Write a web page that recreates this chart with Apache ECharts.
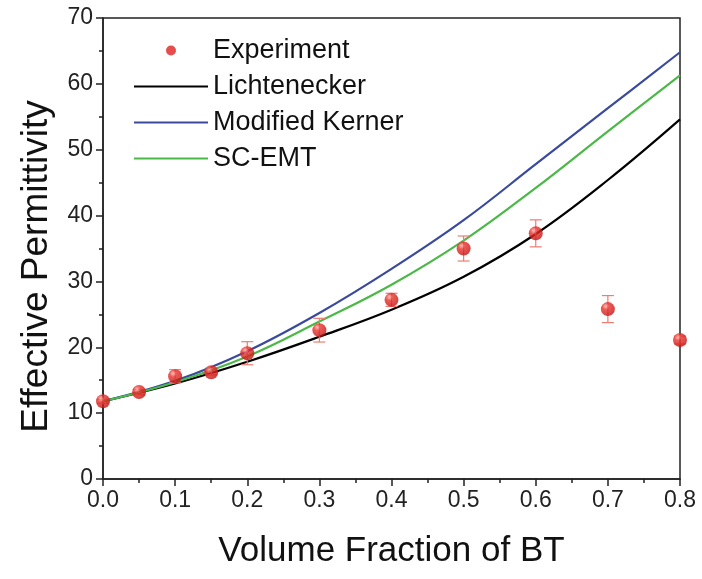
<!DOCTYPE html>
<html><head><meta charset="utf-8">
<script src="https://cdn.jsdelivr.net/npm/echarts@6/dist/echarts.min.js"></script>
<style>html,body{margin:0;padding:0;background:#fff}#c{width:702px;height:579px}</style>
</head><body><div id="c"></div>
<script>
const fracX = [0.0, 0.05, 0.1, 0.15, 0.2, 0.3, 0.4, 0.5, 0.6, 0.7, 0.8];
const expY = [11.8, 13.2, 15.6, 16.2, 19.1, 22.6, 27.2, 35.0, 37.3, 25.8, 21.1];
const expErr = [0.3, 0.4, 1.0, 0.4, 1.75, 1.8, 1.0, 1.9, 2.05, 2.05, 0.6];
const curveX = [0.0, 0.1, 0.2, 0.3, 0.4, 0.5, 0.6, 0.7, 0.8];
const lichY = [11.8, 14.5, 17.8, 21.6, 25.7, 30.7, 37.2, 45.4, 54.6];
const kernerY = [11.8, 14.9, 19.4, 25.2, 31.9, 39.3, 47.8, 56.3, 64.8];
const scemtY = [11.8, 14.7, 18.6, 23.9, 29.5, 36.2, 44.2, 52.8, 61.3];
const xTicks = ['0.0','0.1','0.2','0.3','0.4','0.5','0.6','0.7','0.8'];

const zip = (xs, ys) => xs.map((x, i) => [x, ys[i]]);
const font = 'Liberation Sans, Arial, sans-serif';
const chart = echarts.init(document.getElementById('c'));
const ptColor = new echarts.graphic.RadialGradient(0.35, 0.3, 0.7, [
  {offset: 0, color: '#ffb0a8'}, {offset: 0.35, color: '#e8302a'}, {offset: 1, color: '#c41414'}]);
const hideSym = {opacity: 0};
chart.setOption({
  animation: false,
  grid: {left: 103, right: 22, top: 18, bottom: 100, show: true, borderColor: '#222', borderWidth: 1.5},
  legend: {
    orient: 'vertical', left: 128, top: 32, itemGap: 9, itemWidth: 74, itemHeight: 10,
    textStyle: {fontFamily: font, fontSize: 27, color: '#111'},
    data: [
      {name: 'Experiment', icon: 'circle', itemStyle: {color: '#e0201f'}},
      {name: 'Lichtenecker', itemStyle: hideSym},
      {name: 'Modified Kerner', itemStyle: hideSym},
      {name: 'SC-EMT', itemStyle: hideSym}]
  },
  xAxis: {
    type: 'value', min: 0, max: 0.8, interval: 0.1,
    name: 'Volume Fraction of BT', nameLocation: 'middle', nameGap: 55,
    nameTextStyle: {fontFamily: font, fontSize: 35, color: '#111'},
    axisLine: {lineStyle: {color: '#222', width: 1.5}},
    axisTick: {inside: false, length: 7, lineStyle: {color: '#222', width: 1.5}},
    minorTick: {show: true, splitNumber: 2, length: 4, lineStyle: {color: '#222', width: 1.5}},
    axisLabel: {fontFamily: font, fontSize: 23, color: '#222', margin: 10,
      formatter: v => xTicks[Math.round(v * 10)]},
    splitLine: {show: false}
  },
  yAxis: {
    type: 'value', min: 0, max: 70, interval: 10,
    name: 'Effective Permittivity', nameLocation: 'middle', nameGap: 48,
    nameTextStyle: {fontFamily: font, fontSize: 37, color: '#111', padding: [0, 36, 0, 0]},
    axisLine: {show: true, lineStyle: {color: '#222', width: 1.5}},
    axisTick: {show: true, inside: false, length: 7, lineStyle: {color: '#222', width: 1.5}},
    minorTick: {show: true, splitNumber: 2, length: 4, lineStyle: {color: '#222', width: 1.5}},
    axisLabel: {fontFamily: font, fontSize: 23, color: '#222', margin: 10},
    splitLine: {show: false}
  },
  series: [
    {name: 'Lichtenecker', type: 'line', smooth: 0.4, symbol: 'none', data: zip(curveX, lichY),
      lineStyle: {color: '#000', width: 2.2}, itemStyle: {color: '#000'}, z: 2},
    {name: 'Modified Kerner', type: 'line', smooth: 0.4, symbol: 'none', data: zip(curveX, kernerY),
      lineStyle: {color: '#3a4a9c', width: 2.2}, itemStyle: {color: '#3a4a9c'}, z: 2},
    {name: 'SC-EMT', type: 'line', smooth: 0.4, symbol: 'none', data: zip(curveX, scemtY),
      lineStyle: {color: '#4cb848', width: 2.2}, itemStyle: {color: '#4cb848'}, z: 2},
    {name: 'errbars', type: 'custom', z: 3, silent: true,
      data: fracX.map((x, i) => [x, expY[i] - expErr[i], expY[i] + expErr[i]]),
      renderItem: (params, api) => {
        const lo = api.coord([api.value(0), api.value(1)]);
        const hi = api.coord([api.value(0), api.value(2)]);
        const w = 6;
        const st = {stroke: '#ef7b72', lineWidth: 1.2};
        return {type: 'group', children: [
          {type: 'line', shape: {x1: lo[0], y1: lo[1], x2: hi[0], y2: hi[1]}, style: st},
          {type: 'line', shape: {x1: lo[0]-w, y1: lo[1], x2: lo[0]+w, y2: lo[1]}, style: st},
          {type: 'line', shape: {x1: hi[0]-w, y1: hi[1], x2: hi[0]+w, y2: hi[1]}, style: st}
        ]};
      }},
    {name: 'Experiment', type: 'scatter', symbol: 'circle', symbolSize: 14, z: 4,
      data: zip(fracX, expY), itemStyle: {color: ptColor}}
  ]
});
</script></body></html>
